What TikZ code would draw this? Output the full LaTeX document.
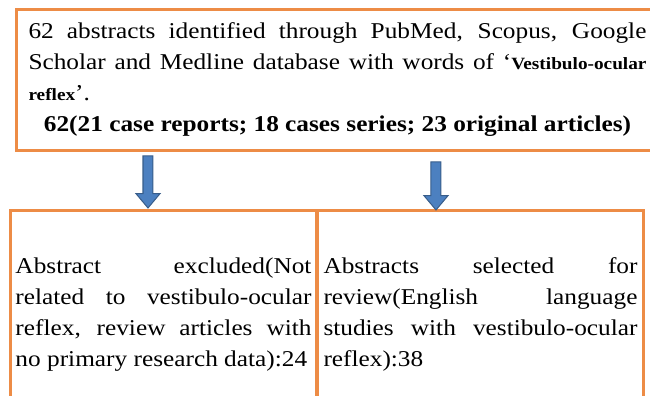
\documentclass[tikz,border=0pt]{standalone}
\usepackage{fontspec}
\setmainfont[FakeStretch=1.12]{Liberation Serif}
\usetikzlibrary{shapes.arrows}
\definecolor{boxorange}{RGB}{237,140,70}
\definecolor{arrowblue}{RGB}{76,128,192}
\definecolor{arrowline}{RGB}{56,93,138}
\hbadness=10000
\hyphenpenalty=10000
\exhyphenpenalty=10000
\begin{document}
\begin{tikzpicture}[x=0.5pt,y=0.5pt,
    box/.style={draw=boxorange, line width=1.5pt, inner ysep=0pt, align=justify,
                font=\fontsize{11.3}{15.5}\selectfont},
    downarrow/.style={single arrow, draw=arrowline, fill=arrowblue, line width=0.5pt,
                inner xsep=0pt, inner ysep=2.25pt, single arrow head extend=3.5pt,
                single arrow tip angle=80, rotate=-90}]
\useasboundingbox (0,0) rectangle (650,396);
\clip (0,0) rectangle (650,396);

\node[box, anchor=north west, text width=309pt, inner xsep=6pt, minimum height=70.5pt] (search) at (15,388)
    {62 abstracts identified through PubMed, Scopus, Google\linebreak
     Scholar and Medline database with words of ‘\textbf{\fontsize{8.6}{10}\selectfont Vestibulo-ocular\linebreak reflex}’.\par
     {\centering\bfseries 62(21 case reports; 18 cases series; 23 original articles)\par}};

\node[box, anchor=north west, text width=148pt, inner xsep=2.5pt, minimum height=104pt] (excluded) at (9,187)
    {Abstract excluded(Not\linebreak
     related to vestibulo-ocular\linebreak
     reflex, review articles with\linebreak
     no primary research data):24};
\node[box, anchor=north west, text width=157pt, inner xsep=3pt, minimum height=104pt] (selected) at (316,187)
    {Abstracts selected for\linebreak
     review(English language\linebreak
     studies with vestibulo-ocular\linebreak
     reflex):38};

% arrows between the boxes
\node[downarrow, minimum height=26pt] (toexcl) at (148,217) {};
\node[downarrow, minimum height=24pt] (tosel) at (436,213) {};
\end{tikzpicture}
\end{document}
